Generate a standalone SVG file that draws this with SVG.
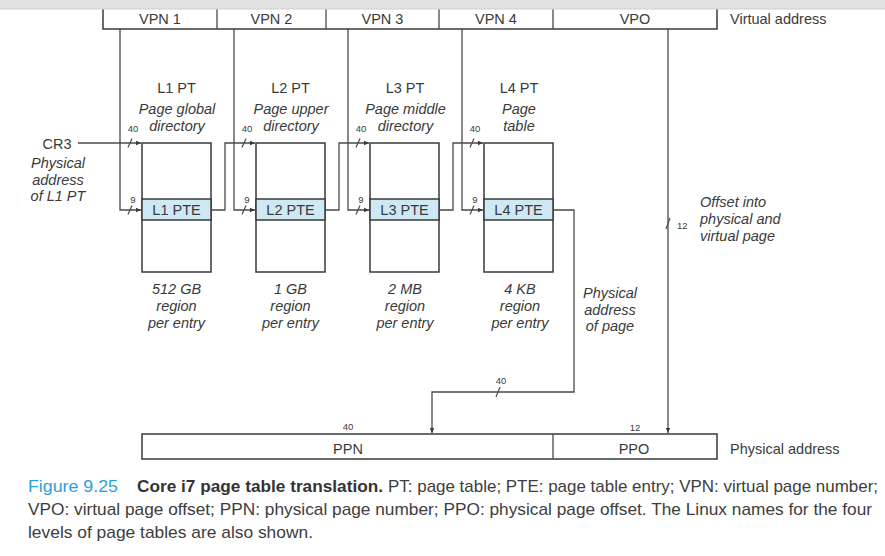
<svg xmlns="http://www.w3.org/2000/svg" width="885" height="556" viewBox="0 0 885 556">
<style>
.t{font-family:"Liberation Sans",Arial,sans-serif;fill:#3a3a3a;font-size:14.5px}
.mid{text-anchor:middle}
.i{font-style:italic}
.s{font-size:9.5px}
.box{fill:#fff;stroke:#3a3a3a;stroke-width:1.5}
.pte{fill:#cfe9f4;stroke:#3a3a3a;stroke-width:1.5}
.c{fill:none;stroke:#4a4a4a;stroke-width:1.3}
.tick{stroke:#4a4a4a;stroke-width:1.2}
.cap{font-family:"Liberation Sans",Arial,sans-serif;font-size:17px;fill:#3d3d3d}
</style>
<defs>
<marker id="ah" markerUnits="userSpaceOnUse" markerWidth="6" markerHeight="6" refX="5" refY="3" orient="auto">
<path d="M0,0.8 L5,3 L0,5.2 z" fill="#3a3a3a"/>
</marker>
</defs>
<rect x="0" y="0" width="885" height="556" fill="#fff"/>

<g id="virtual-address">
<rect class="box" x="103" y="5" width="614" height="24"/>
<line class="c" x1="217" y1="9" x2="217" y2="29"/>
<line class="c" x1="326" y1="9" x2="326" y2="29"/>
<line class="c" x1="439" y1="9" x2="439" y2="29"/>
<line class="c" x1="553" y1="9" x2="553" y2="29"/>
<text class="t mid" x="160" y="23.5">VPN 1</text>
<text class="t mid" x="271.5" y="23.5">VPN 2</text>
<text class="t mid" x="382.5" y="23.5">VPN 3</text>
<text class="t mid" x="496" y="23.5">VPN 4</text>
<text class="t mid" x="635" y="23.5">VPO</text>
<text class="t" x="730" y="23.5">Virtual address</text>
</g>
<rect x="0" y="0" width="885" height="9" fill="#e2e2e2"/>
<line x1="0" y1="9" x2="885" y2="9" stroke="#cfcfcf" stroke-width="1"/>

<g id="cr3">
<text class="t mid" x="57" y="149">CR3</text>
<text class="t mid i" x="58" y="168">Physical</text>
<text class="t mid i" x="58" y="185">address</text>
<text class="t mid i" x="58" y="201">of L1 PT</text>
</g>

<g id="l1-pt">
<text class="t mid" x="176.5" y="93">L1 PT</text>
<text class="t mid i" x="177" y="114">Page global</text>
<text class="t mid i" x="177" y="131">directory</text>
<rect class="box" x="142" y="143" width="69" height="129"/>
<rect class="pte" x="142" y="199" width="69" height="21"/>
<text class="t mid" x="176.5" y="214.5">L1 PTE</text>
<text class="t mid i" x="176.5" y="294">512 GB</text>
<text class="t mid i" x="176.5" y="311">region</text>
<text class="t mid i" x="176.5" y="328">per entry</text>
</g>

<g id="l2-pt">
<text class="t mid" x="290.5" y="93">L2 PT</text>
<text class="t mid i" x="291" y="114">Page upper</text>
<text class="t mid i" x="291" y="131">directory</text>
<rect class="box" x="256" y="143" width="69" height="129"/>
<rect class="pte" x="256" y="199" width="69" height="21"/>
<text class="t mid" x="290.5" y="214.5">L2 PTE</text>
<text class="t mid i" x="290.5" y="294">1 GB</text>
<text class="t mid i" x="290.5" y="311">region</text>
<text class="t mid i" x="290.5" y="328">per entry</text>
</g>

<g id="l3-pt">
<text class="t mid" x="405" y="93">L3 PT</text>
<text class="t mid i" x="405.5" y="114">Page middle</text>
<text class="t mid i" x="405.5" y="131">directory</text>
<rect class="box" x="370" y="143" width="69" height="129"/>
<rect class="pte" x="370" y="199" width="69" height="21"/>
<text class="t mid" x="404.5" y="214.5">L3 PTE</text>
<text class="t mid i" x="405" y="294">2 MB</text>
<text class="t mid i" x="405" y="311">region</text>
<text class="t mid i" x="405" y="328">per entry</text>
</g>

<g id="l4-pt">
<text class="t mid" x="519" y="93">L4 PT</text>
<text class="t mid i" x="519" y="114">Page</text>
<text class="t mid i" x="519" y="131">table</text>
<rect class="box" x="484" y="143" width="69" height="129"/>
<rect class="pte" x="484" y="199" width="69" height="21"/>
<text class="t mid" x="518.5" y="214.5">L4 PTE</text>
<text class="t mid i" x="520" y="294">4 KB</text>
<text class="t mid i" x="520" y="311">region</text>
<text class="t mid i" x="520" y="328">per entry</text>
</g>

<g id="page-address-label">
<text class="t mid i" x="610" y="298">Physical</text>
<text class="t mid i" x="610" y="315">address</text>
<text class="t mid i" x="610" y="331">of page</text>
</g>

<g id="offset-label">
<text class="t i" x="700" y="207">Offset into</text>
<text class="t i" x="700" y="224">physical and</text>
<text class="t i" x="700" y="241">virtual page</text>
</g>

<g id="physical-address">
<rect class="box" x="142" y="434" width="575" height="25"/>
<line class="c" x1="553" y1="434" x2="553" y2="459"/>
<text class="t mid" x="348" y="453.5">PPN</text>
<text class="t mid" x="634" y="453.5">PPO</text>
<text class="t" x="730" y="453.5">Physical address</text>
<text class="t mid s" x="348" y="430">40</text>
<text class="t mid s" x="635" y="431">12</text>
</g>

<g id="connectors">
<path class="c" d="M78,143 H141" marker-end="url(#ah)"/>
<path class="c" d="M120,29 V210 H141" marker-end="url(#ah)"/>
<path class="c" d="M211,210 H225 V143 H255" marker-end="url(#ah)"/>
<path class="c" d="M234,29 V210 H255" marker-end="url(#ah)"/>
<path class="c" d="M325,210 H339 V143 H369" marker-end="url(#ah)"/>
<path class="c" d="M348,29 V210 H369" marker-end="url(#ah)"/>
<path class="c" d="M439,210 H453 V143 H483" marker-end="url(#ah)"/>
<path class="c" d="M462,29 V210 H483" marker-end="url(#ah)"/>
<path class="c" d="M553,210 H574 V392 H432 V433" marker-end="url(#ah)"/>
<path class="c" d="M668,29 V433" marker-end="url(#ah)"/>
<g class="tick">
<line x1="128" y1="147.5" x2="132" y2="138.5"/>
<line x1="242" y1="147.5" x2="246" y2="138.5"/>
<line x1="356" y1="147.5" x2="360" y2="138.5"/>
<line x1="470" y1="147.5" x2="474" y2="138.5"/>
<line x1="128" y1="214.5" x2="132" y2="205.5"/>
<line x1="242" y1="214.5" x2="246" y2="205.5"/>
<line x1="356" y1="214.5" x2="360" y2="205.5"/>
<line x1="470" y1="214.5" x2="474" y2="205.5"/>
<line x1="496" y1="397" x2="500" y2="387"/>
<line x1="666" y1="229" x2="670" y2="218"/>
</g>
<text class="t mid s" x="133" y="132">40</text>
<text class="t mid s" x="247" y="132">40</text>
<text class="t mid s" x="361" y="132">40</text>
<text class="t mid s" x="475" y="132">40</text>
<text class="t mid s" x="133" y="203">9</text>
<text class="t mid s" x="247" y="203">9</text>
<text class="t mid s" x="361" y="203">9</text>
<text class="t mid s" x="475" y="203">9</text>
<text class="t mid s" x="501" y="384">40</text>
<text class="t s" x="677" y="229">12</text>
</g>

<g id="caption">
<text class="cap" x="28" y="492" fill="#2b9fd9" style="fill:#2b9fd9" textLength="90" lengthAdjust="spacingAndGlyphs">Figure 9.25</text>
<text class="cap" x="137" y="492" font-weight="bold" style="fill:#333" textLength="246" lengthAdjust="spacingAndGlyphs">Core i7 page table translation.</text>
<text class="cap" x="388" y="492" textLength="490" lengthAdjust="spacingAndGlyphs">PT: page table; PTE: page table entry; VPN: virtual page number;</text>
<text class="cap" x="28" y="515" textLength="844" lengthAdjust="spacingAndGlyphs">VPO: virtual page offset; PPN: physical page number; PPO: physical page offset. The Linux names for the four</text>
<text class="cap" x="28" y="538" textLength="285" lengthAdjust="spacingAndGlyphs">levels of page tables are also shown.</text>
</g>
</svg>
